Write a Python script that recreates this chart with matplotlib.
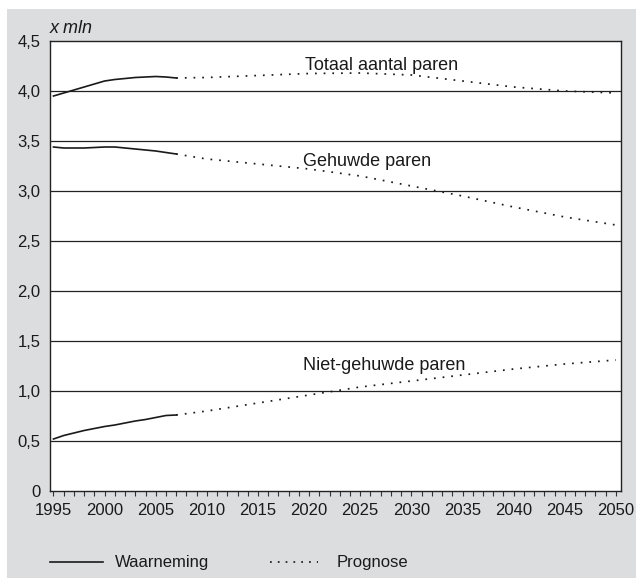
import matplotlib
matplotlib.use("Agg")
import matplotlib.pyplot as plt
from matplotlib.patches import Rectangle
from matplotlib.lines import Line2D

plt.rcParams['font.family'] = ['Liberation Sans', 'DejaVu Sans']

# Observed (Waarneming)
obs_years = [1995, 1996, 1997, 1998, 1999, 2000, 2001, 2002, 2003, 2004, 2005, 2006, 2007]
obs_totaal = [3.95, 3.98, 4.01, 4.04, 4.07, 4.10, 4.115, 4.125, 4.135, 4.14, 4.145, 4.14, 4.13]
obs_gehuwd = [3.44, 3.43, 3.43, 3.43, 3.435, 3.44, 3.44, 3.43, 3.42, 3.41, 3.40, 3.385, 3.37]
obs_nietgeh = [0.52, 0.555, 0.58, 0.605, 0.625, 0.645, 0.66, 0.68, 0.70, 0.715, 0.735, 0.755, 0.76]

# Forecast (Prognose)
prog_years = [2007, 2010, 2015, 2020, 2025, 2030, 2035, 2040, 2045, 2050]
prog_totaal = [4.13, 4.135, 4.155, 4.175, 4.18, 4.16, 4.10, 4.04, 4.00, 3.98]
prog_gehuwd = [3.37, 3.32, 3.27, 3.22, 3.15, 3.05, 2.95, 2.84, 2.74, 2.66]
prog_nietgeh = [0.76, 0.80, 0.88, 0.96, 1.04, 1.10, 1.16, 1.22, 1.27, 1.31]

series_labels = ["Totaal aantal paren", "Gehuwde paren", "Niet-gehuwde paren"]
y_ticks = [0, 0.5, 1.0, 1.5, 2.0, 2.5, 3.0, 3.5, 4.0, 4.5]
y_ticklabels = ["0", "0,5", "1,0", "1,5", "2,0", "2,5", "3,0", "3,5", "4,0", "4,5"]
x_major = list(range(1995, 2051, 5))
x_minor = list(range(1995, 2051))

W, H = 636, 579
fig = plt.figure(figsize=(W / 100, H / 100), dpi=100)
fig.patch.set_facecolor('white')
bg = Rectangle((7 / W, 1 / H), 1 - 7 / W, (H - 10) / H,
               transform=fig.transFigure, facecolor='#dcdddf',
               edgecolor='none', zorder=-5)
fig.add_artist(bg)

ax = fig.add_axes([50 / W, (H - 491) / H, (621 - 50) / W, (491 - 41) / H])
ax.set_zorder(1)
ax.set_facecolor('white')

for yt in y_ticks[1:-1]:
    ax.axhline(yt, color='#222222', lw=0.9, zorder=1)

dot = (0, (1, 4))
kw_obs = dict(color='#1a1a1a', lw=1.2, zorder=3)
kw_prog = dict(color='#1a1a1a', lw=1.25, linestyle=dot, zorder=3)
ax.plot(obs_years, obs_totaal, **kw_obs)
ax.plot(obs_years, obs_gehuwd, **kw_obs)
ax.plot(obs_years, obs_nietgeh, **kw_obs)
ax.plot(prog_years, prog_totaal, **kw_prog)
ax.plot(prog_years, prog_gehuwd, **kw_prog)
ax.plot(prog_years, prog_nietgeh, **kw_prog)

ax.set_xlim(1994.66, 2050.5)
ax.set_ylim(0, 4.5)
ax.set_yticks(y_ticks)
ax.set_yticklabels(y_ticklabels)
ax.set_xticks(x_major)
ax.set_xticks(x_minor, minor=True)
ax.set_xticklabels([str(x) for x in x_major])
ax.tick_params(axis='y', length=0, pad=7, labelsize=12, labelcolor='#1a1a1a')
ax.tick_params(axis='x', which='both', direction='out', length=3.5, width=0.8,
               color='#333333', pad=5, labelsize=12, labelcolor='#1a1a1a')
for s in ax.spines.values():
    s.set_color('#222222')
    s.set_linewidth(1.0)

ax.text(2019.6, 4.21, series_labels[0], fontsize=13, va='baseline', color='#1a1a1a')
ax.text(2019.4, 3.25, series_labels[1], fontsize=13, va='baseline', color='#1a1a1a')
ax.text(2019.4, 1.21, series_labels[2], fontsize=13, va='baseline', color='#1a1a1a')

fig.text(50 / W, (H - 33) / H, "x mln", fontsize=13, style='italic',
         va='baseline', ha='left', color='#1a1a1a')

ly = (H - 562) / H
fig.add_artist(Line2D([50 / W, 103 / W], [ly, ly], transform=fig.transFigure,
                      color='#1a1a1a', lw=1.2))
fig.text(115 / W, ly, "Waarneming", fontsize=12, va='center', ha='left', color='#1a1a1a')
fig.add_artist(Line2D([270 / W, 318 / W], [ly, ly], transform=fig.transFigure,
                      color='#1a1a1a', lw=1.25, linestyle=(0, (1, 3.5))))
fig.text(337 / W, ly, "Prognose", fontsize=12, va='center', ha='left', color='#1a1a1a')

fig.savefig("out.png", dpi=100, facecolor=fig.get_facecolor())
